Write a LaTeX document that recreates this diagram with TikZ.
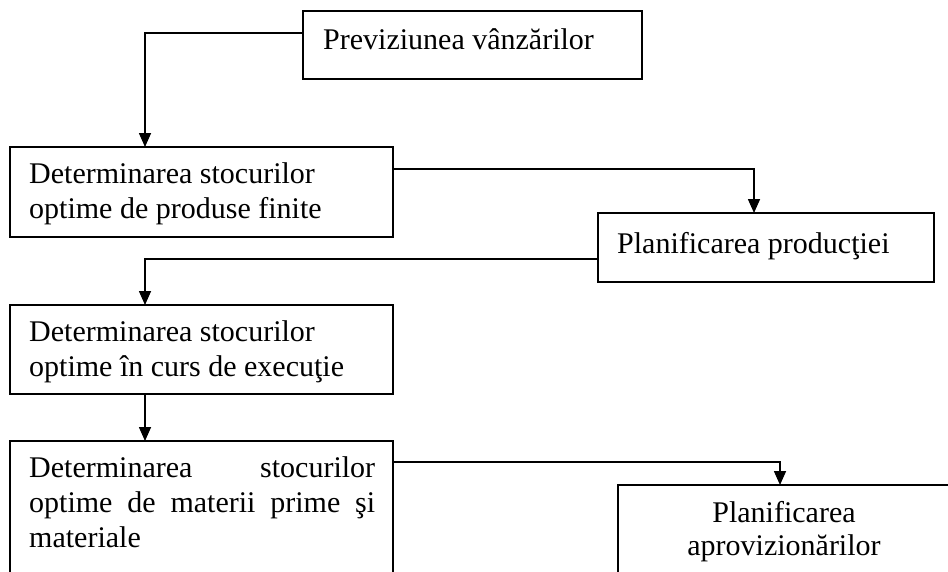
\documentclass[tikz,border=0pt]{standalone}
\usepackage{fontspec}
\setmainfont{Liberation Serif}
\usetikzlibrary{arrows.meta}
\begin{document}
\begin{tikzpicture}[x=1pt,y=-1pt,
  box/.style={draw, line width=1.8pt, inner sep=0pt, outer sep=0pt, anchor=north west},
  lbl/.style={inner sep=0pt, anchor=base west, font=\fontsize{30}{35}\selectfont},
  conn/.style={line width=1.6pt, -{Triangle[width=12pt,length=14pt]}}]
\useasboundingbox (0,0) rectangle (948,571);
\clip (0,0) rectangle (948,571);
\fill[white] (0,0) rectangle (948,571);

% boxes
\node[box, minimum width=339pt, minimum height=68pt] (b1) at (303,11) {};
\node[box, minimum width=383pt, minimum height=90pt] (b2) at (10,147) {};
\node[box, minimum width=336pt, minimum height=69pt] (b3) at (598,213) {};
\node[box, minimum width=383pt, minimum height=89pt] (b4) at (10,305) {};
\node[box, minimum width=383pt, minimum height=159pt] (b5) at (10,441) {};
\node[box, minimum width=337pt, minimum height=115pt] (b6) at (618,485) {};

% connectors
\coordinate (k1) at (145,33);
\draw[conn] (b1.west |- k1) -| (b2.north -| k1);
\coordinate (k2) at (754,169);
\draw[conn] (b2.east |- k2) -| (b3.north -| k2);
\coordinate (k3) at (145,259);
\draw[conn] (b3.west |- k3) -| (b4.north -| k3);
\coordinate (k4) at (145,0);
\draw[conn] (b4.south -| k4) -- (b5.north -| k4);
\coordinate (k5) at (780,462);
\draw[conn] (b5.east |- k5) -| (b6.north -| k5);

% texts
\node[lbl] (t1) at (323,49) {Previziunea vânzărilor};
\node[lbl] (t2a) at (29,183) {Determinarea stocurilor};
\node[lbl] (t2b) at (29,218) {optime de produse finite};
\node[lbl] (t3) at (617,253) {Planificarea producţiei};
\node[lbl] (t4a) at (29,341) {Determinarea stocurilor};
\node[lbl] (t4b) at (29,376) {optime în curs de execuţie};
\node[lbl] (t5a) at (29,477) {\hbox to 346pt{Determinarea stocurilor}};
\node[lbl] (t5b) at (29,512) {\hbox to 346pt{optime de materii prime şi}};
\node[lbl] (t5c) at (29,547) {materiale};
\node[lbl, anchor=base] (t6a) at (784,522) {Planificarea};
\node[lbl, anchor=base] (t6b) at (784,555) {aprovizionărilor};
\end{tikzpicture}
\end{document}
